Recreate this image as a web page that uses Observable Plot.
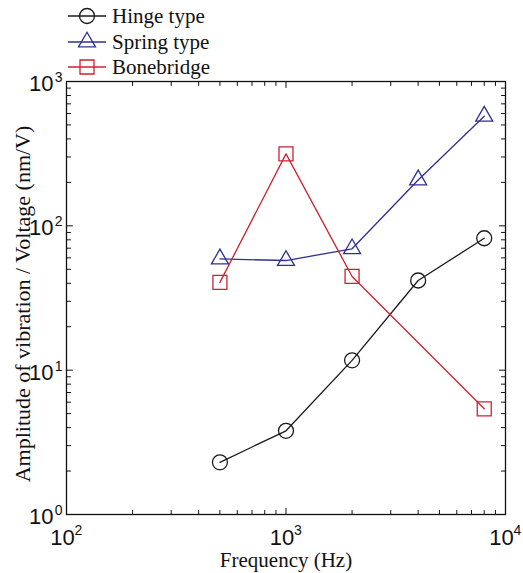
<!DOCTYPE html>
<html>
<head>
<meta charset="utf-8">
<script src="https://cdn.jsdelivr.net/npm/d3@7"></script>
<script src="https://cdn.jsdelivr.net/npm/@observablehq/plot@0.6"></script>
<style>
  html, body { margin: 0; padding: 0; background: #fff; }
  #wrap { position: relative; width: 523px; height: 573px; }
  #legend { position: absolute; left: 0; top: 0; }
  #chart svg { overflow: visible; }
</style>
</head>
<body>
<div id="wrap">
  <div id="chart"></div>
  <div id="legend"></div>
</div>
<script>
// ---- data ----
const freq = [500, 1000, 2000, 4000, 8000];
const hinge = [2.3, 3.8, 11.7, 41.8, 82];
const spring = [59, 57.5, 69.3, 208, 575];
const boneFreq = [500, 1000, 2000, 8000];
const bonebridge = [40.6, 315, 44.6, 5.4];

const seriesNames = ["Hinge type", "Spring type", "Bonebridge"];
const seriesColors = ["#1a1a1a", "#2e3192", "#cc2233"];
const seriesSymbols = ["circle", "triangle", "square"];

const xMajor = [100, 1000, 10000];
const yMajor = [1, 10, 100, 1000];
const xLabel = "Frequency (Hz)";
const yLabel = "Amplitude of vibration / Voltage (nm/V)";

// ---- build tables ----
const hingeData = freq.map((f, i) => ({f, v: hinge[i]}));
const springData = freq.map((f, i) => ({f, v: spring[i]}));
const boneData = boneFreq.map((f, i) => ({f, v: bonebridge[i]}));

function minorTicks(major) {
  const out = [];
  for (let i = 0; i < major.length - 1; i++)
    for (let k = 2; k <= 9; k++) out.push(major[i] * k);
  return out;
}
const xMinor = minorTicks(xMajor);
const yMinor = minorTicks(yMajor);

const tickShape = { draw(ctx, l) { ctx.moveTo(0, 0); ctx.lineTo(0, -l); } };
const tickStyle = {shape: tickShape, anchor: "start", stroke: "#111", strokeWidth: 1};

const serif = "'Liberation Serif', 'Times New Roman', serif";
const sans = "'Liberation Sans', Arial, sans-serif";
const sr = {circle: 7.5, triangle: 6.3, square: 7.9};

const chart = Plot.plot({
  width: 523,
  height: 573,
  marginLeft: 66,
  marginRight: 18,
  marginTop: 81,
  marginBottom: 59,
  x: {type: "log", domain: [100, 10000], axis: null},
  y: {type: "log", domain: [1, 1000], axis: null},
  marks: [
    // ticks inward on all four sides
    Plot.vector(xMinor, {x: d => d, frameAnchor: "bottom", length: 4, rotate: 0, ...tickStyle}),
    Plot.vector(xMajor, {x: d => d, frameAnchor: "bottom", length: 6, rotate: 0, ...tickStyle}),
    Plot.vector(xMinor, {x: d => d, frameAnchor: "top", length: 4, rotate: 180, ...tickStyle}),
    Plot.vector(xMajor, {x: d => d, frameAnchor: "top", length: 6, rotate: 180, ...tickStyle}),
    Plot.vector(yMinor, {y: d => d, frameAnchor: "left", length: 4, rotate: 90, ...tickStyle}),
    Plot.vector(yMajor, {y: d => d, frameAnchor: "left", length: 6, rotate: 90, ...tickStyle}),
    Plot.vector(yMinor, {y: d => d, frameAnchor: "right", length: 4, rotate: -90, ...tickStyle}),
    Plot.vector(yMajor, {y: d => d, frameAnchor: "right", length: 6, rotate: -90, ...tickStyle}),
    // tick labels
    Plot.text(xMajor, {x: d => d, frameAnchor: "bottom", lineAnchor: "middle", textAnchor: "middle", text: () => "10", dx: -4, dy: 23, fontSize: 22, fontFamily: sans, fill: "#111"}),
    Plot.text(xMajor, {x: d => d, frameAnchor: "bottom", lineAnchor: "middle", text: d => String(Math.round(Math.log10(d))), dx: 8, dy: 16, textAnchor: "start", fontSize: 14, fontFamily: sans, fill: "#111"}),
    Plot.text(yMajor, {y: d => d, frameAnchor: "left", lineAnchor: "middle", text: () => "10", dx: -13, dy: 2.5, textAnchor: "end", fontSize: 22, fontFamily: sans, fill: "#111"}),
    Plot.text(yMajor, {y: d => d, frameAnchor: "left", lineAnchor: "middle", text: d => String(Math.round(Math.log10(d))), dx: -4, dy: -4, textAnchor: "end", fontSize: 14, fontFamily: sans, fill: "#111"}),
    // axis labels
    Plot.text([xLabel], {frameAnchor: "bottom", lineAnchor: "middle", textAnchor: "middle", text: d => d, dy: 46, fontSize: 21, fontFamily: serif, fill: "#111"}),
    Plot.text([yLabel], {frameAnchor: "left", lineAnchor: "middle", textAnchor: "middle", text: d => d, rotate: -90, dx: -44, dy: 6, fontSize: 22, fontFamily: serif, fill: "#111"}),
    // data
    Plot.line(hingeData, {x: "f", y: "v", stroke: seriesColors[0], strokeWidth: 1.3}),
    Plot.line(springData, {x: "f", y: "v", stroke: seriesColors[1], strokeWidth: 1.3}),
    Plot.line(boneData, {x: "f", y: "v", stroke: seriesColors[2], strokeWidth: 1.3}),
    Plot.dot(hingeData, {x: "f", y: "v", symbol: "circle", r: sr.circle, stroke: seriesColors[0], fill: "none", strokeWidth: 1.3}),
    Plot.dot(springData, {x: "f", y: "v", symbol: "triangle", r: sr.triangle, stroke: seriesColors[1], fill: "none", strokeWidth: 1.3}),
    Plot.dot(boneData, {x: "f", y: "v", symbol: "square", r: sr.square, stroke: seriesColors[2], fill: "none", strokeWidth: 1.3}),
    Plot.frame({stroke: "#111", strokeWidth: 1.3})
  ]
});
document.getElementById("chart").appendChild(chart);

// ---- legend (HTML/SVG overlay above the axes) ----
const symMap = {circle: d3.symbolCircle, triangle: d3.symbolTriangle, square: d3.symbolSquare};
const leg = d3.select("#legend").append("svg").attr("width", 260).attr("height", 80);
const rows = [16, 42, 67];
seriesNames.forEach((name, i) => {
  const g = leg.append("g").attr("transform", `translate(0,${rows[i]})`);
  g.append("line").attr("x1", 68).attr("x2", 106).attr("y1", 0).attr("y2", 0)
    .attr("stroke", seriesColors[i]).attr("stroke-width", 1.3);
  const r = sr[seriesSymbols[i]];
  g.append("path").attr("transform", "translate(87,0)")
    .attr("d", d3.symbol(symMap[seriesSymbols[i]], Math.PI * r * r)())
    .attr("fill", "#fff").attr("fill-opacity", 0).attr("stroke", seriesColors[i]).attr("stroke-width", 1.3);
  g.append("text").attr("x", 112).attr("y", 7).attr("font-family", serif).attr("font-size", 21)
    .attr("fill", "#111").text(name);
});
</script>
</body>
</html>
